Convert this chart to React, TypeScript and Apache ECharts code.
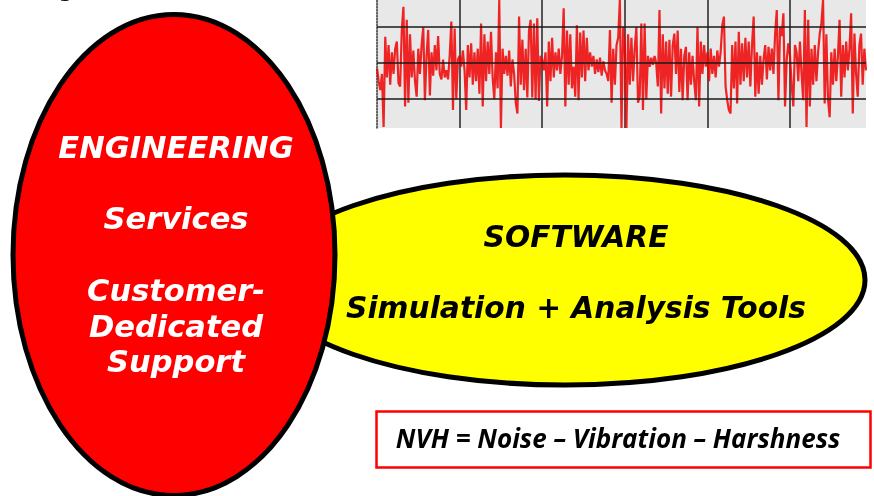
import React, { useEffect, useRef } from "react";
import * as echarts from "echarts";

// Vibration signal (amplitude units), 50 samples per time division
const seg1 = [
  -0.15, -0.5, -0.75, -0.3, -1.77, 0.73, -0.4, 0.5, -0.6, 0.3,
  -0.3, 0.4, 0.6, -0.55, -0.65, 0.9, 1.56, -1.2, 1.2, -1.1,
  0.8, -0.4, 0.35, -0.5, -0.93, 0.4, -0.3, 0.5, 1.0, -1.03,
  0.2, 0.92, -0.9, 0.3, -0.35, 0.5, -0.2, 0.75, -0.3, -0.45,
  0.1, -0.4, -0.2, -0.45, 0.2, 1.15, -1.3, 0.96, -1.0, 0.1,
];
const seg2 = [
  0.2, -0.1, 0.35, -0.2, -1.3, 0.5, -0.4, 0.55, -0.6, 0.3,
  -0.5, 0.4, -0.85, 1.1, -1.2, 0.8, -0.5, 0.6, -0.3, 0.87,
  -0.4, -1.0, 0.3, -0.7, 1.75, -1.8, 0.4, -0.3, 0.2, -0.35,
  0.35, -0.65, 0.1, -0.3, -1.1, -1.4, 1.29, -0.6, 0.65, -0.75,
  0.4, -0.95, 0.9, 1.2, -0.95, 1.1, -1.0, 1.24, -1.05, 0.2,
];
const seg3 = [
  0.1, -0.2, 0.3, -1.2, 0.6, -0.5, 0.7, -0.4, 0.3, -0.2,
  0.4, -0.3, 0.2, 1.52, -1.2, 0.9, -0.6, 0.8, -0.7, -0.1,
  -0.93, 1.05, -1.03, 0.85, -0.4, 0.9, -0.5, 0.7, -0.2, 0.3,
  -0.1, 0.2, -0.3, 0.1, -0.25, 0.15, -0.35, 0.05, -0.2, -0.3,
  -0.5, 0.92, -1.1, 0.4, -0.6, 0.5, 0.7, 1.75, -1.8, 1.0,
];
const seg4 = [
  0.5, -1.8, 0.8, -0.6, 0.7, -0.5, 0.4, 1.0, -1.1, -0.93,
  1.1, -1.3, 1.1, -1.0, 0.2, -0.1, 0.15, -0.05, 0.2, 0.0,
  -0.65, 1.47, -1.4, 0.8, -0.7, 0.6, -0.85, 0.65, -0.93, 0.5,
  0.82, -0.3, 0.9, -0.8, 0.4, -1.03, 0.2, 0.45, -1.03, 0.3,
  -0.6, 0.2, -0.5, -1.03, 1.0, -1.2, 0.6, -0.3, 0.5, -0.1,
];
const seg5 = [
  0.3, -0.5, 0.4, -0.3, 0.2, -0.4, 0.35, -0.1, 0.3, 1.05,
  1.29, -0.65, -1.03, -1.3, -1.4, 0.5, -0.7, 0.6, -1.12, 0.87,
  -0.6, 0.55, -0.5, 0.7, -0.4, 0.6, -0.65, 0.5, 1.29, -0.93,
  0.3, -0.85, 0.2, -0.6, 0.1, 0.5, -0.45, 0.45, -0.2, 0.4,
  -0.3, 0.82, 1.47, -1.03, 1.0, 0.75, 1.38, -1.2, 0.1, 0.55,
];
const seg6 = [
  0.2, -0.6, -1.2, 0.5, 0.3, -0.5, 0.6, -0.3, -1.03, 1.47,
  -1.77, 1.2, -1.2, 0.4, -0.6, 0.5, -0.5, 0.3, 0.82, 1.1,
  1.75, -1.12, 0.8, -1.0, -1.5, 0.3, -0.6, 0.4, -0.5, 0.2,
  1.2, -0.93, 0.5, -0.4, 0.6, -0.2, 0.4, 1.38, -1.4, 0.82,
  -0.3, -0.93, 0.5, 0.82, -0.6, 0.4, -0.2,
];
const samplesPerDivision = 50;
const gridLevels = [-1, 0, 1];

const redLines = ["ENGINEERING", "Services", "Customer-", "Dedicated", "Support"];
const yellowLines = ["SOFTWARE", "Simulation + Analysis Tools"];
const noteText = "NVH = Noise \u2013 Vibration \u2013 Harshness";

export default function App() {
  const ref = useRef<HTMLDivElement>(null);
  useEffect(() => {
    if (!ref.current) return;
    const chart = echarts.init(ref.current, undefined, { renderer: "svg" });
    const signal = [...seg1, ...seg2, ...seg3, ...seg4, ...seg5, ...seg6];
    const data = signal.map((v, i) => [i / samplesPerDivision, v]);
    const tMax = (signal.length - 1) / samplesPerDivision;
    const boldFont = (px: number) => `italic bold ${px}px "DejaVu Sans"`;
    const redY = [147, 218, 290, 326, 361];
    const yellowY = [236, 307];

    chart.setOption({
      animation: false,
      grid: {
        left: 377,
        top: 0,
        width: 489,
        height: 128,
        show: true,
        backgroundColor: "#e8e8e8",
        borderWidth: 0,
      },
      xAxis: {
        type: "value",
        min: 0,
        max: tMax,
        interval: 1,
        axisLine: { show: false },
        axisTick: { show: false },
        axisLabel: { show: false },
        splitLine: {
          show: true,
          showMinLine: false,
          showMaxLine: false,
          lineStyle: { color: "#555", width: 2 },
        },
      },
      yAxis: {
        type: "value",
        min: -1.8,
        max: 1.75,
        axisLine: { show: true, lineStyle: { color: "#333", type: "dotted", width: 1.5 } },
        axisTick: { show: false },
        axisLabel: { show: false },
        splitLine: { show: false },
      },
      series: [
        {
          type: "line",
          data,
          showSymbol: false,
          clip: true,
          lineStyle: { color: "#ee0000", width: 2.2, opacity: 0.85 },
          markLine: {
            silent: true,
            symbol: ["none", "none"],
            label: { show: false },
            lineStyle: { color: "#1a1a1a", width: 1.6, type: "solid", opacity: 1 },
            data: gridLevels.map((v) => ({ yAxis: v })),
          },
        },
      ],
      graphic: [
        {
          type: "text",
          x: 66,
          y: 0,
          style: { text: "g", fill: "#000", font: 'bold 20px "DejaVu Sans"', align: "center", verticalAlign: "bottom" },
        },
        {
          type: "ellipse",
          shape: { cx: 565, cy: 280, rx: 300, ry: 105 },
          style: { fill: "#ffff00", stroke: "#000", lineWidth: 5 },
        },
        {
          type: "ellipse",
          shape: { cx: 174, cy: 255, rx: 161, ry: 240.5 },
          style: { fill: "#ff0000", stroke: "#000", lineWidth: 5 },
        },
        ...redLines.map((t, i) => ({
          type: "text",
          x: 176,
          y: redY[i],
          style: { text: t, fill: "#fff", font: boldFont(30.5), align: "center", verticalAlign: "middle" },
        })),
        ...yellowLines.map((t, i) => ({
          type: "text",
          x: 576,
          y: yellowY[i],
          style: { text: t, fill: "#000", font: boldFont(29.7), align: "center", verticalAlign: "middle" },
        })),
        {
          type: "rect",
          shape: { x: 376.5, y: 411.5, width: 494, height: 56 },
          style: { fill: "#fff", stroke: "#ff0000", lineWidth: 2.5 },
        },
        {
          type: "text",
          x: 618,
          y: 438,
          style: { text: noteText, fill: "#000", font: 'italic bold 26px "Open Sans"', align: "center", verticalAlign: "middle" },
        },
      ],
    });
    return () => chart.dispose();
  }, []);
  return <div ref={ref} style={{ position: "fixed", left: 0, top: 0, width: 874, height: 496 }} />;
}
